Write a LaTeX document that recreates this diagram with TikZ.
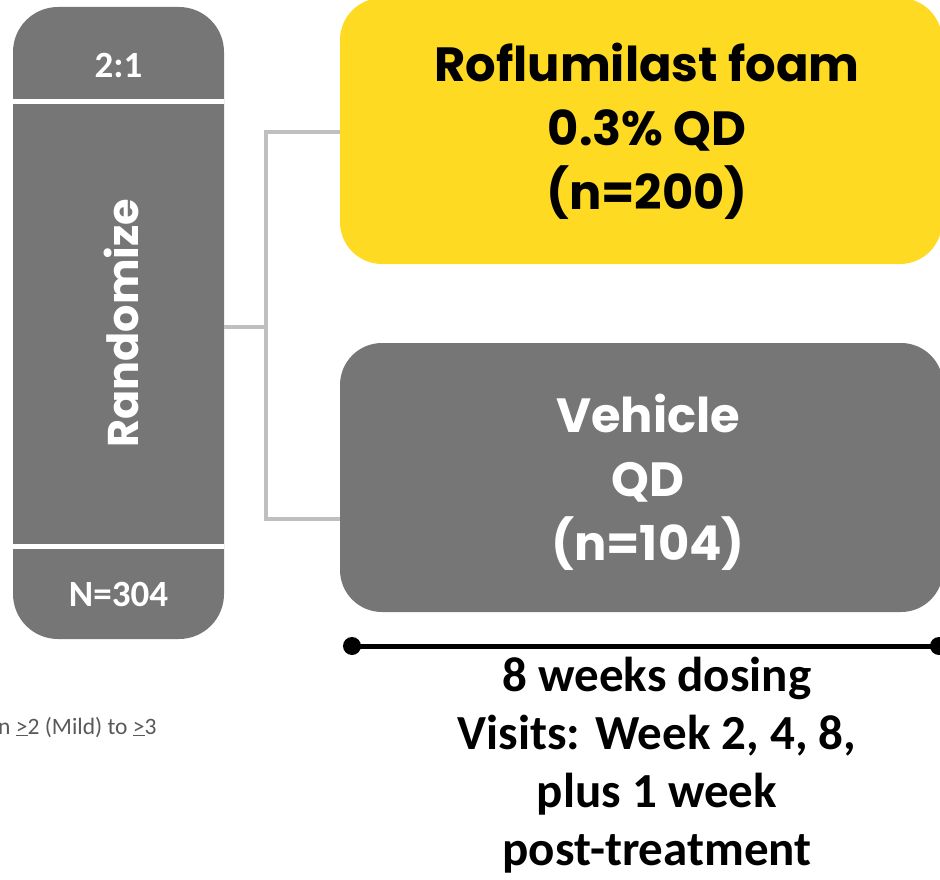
\documentclass[tikz,border=0pt]{standalone}
\usepackage{fontspec}
\setmainfont{Carlito}
\newfontfamily\gothic{Poppins}
\definecolor{gold}{HTML}{FEDB22}
\definecolor{slate}{HTML}{767676}
\definecolor{conn}{HTML}{BFBFBF}
\definecolor{note}{HTML}{595959}
\tikzset{
  armbox/.style={rounded corners=42pt, inner sep=0pt, draw=none},
  armtext/.style={align=center, font=\gothic\bfseries\fontsize{48}{64}\selectfont, inner sep=0pt},
  coltext/.style={text=white, font=\bfseries\fontsize{37}{42}\selectfont, inner sep=0pt},
  link/.style={draw=conn, line width=4pt},
  sep/.style={draw=white, line width=5pt},
  timetext/.style={align=center, font=\bfseries\fontsize{49}{58}\selectfont, inner sep=0pt}
}
\begin{document}
\begin{tikzpicture}[x=1pt,y=-1pt]
\useasboundingbox (0,0) rectangle (940,880);
\clip (0,0) rectangle (940,880);

% left column
\node[fill=slate, rounded corners=45pt, minimum width=211pt, minimum height=632pt, inner sep=0pt] (col) at (118.5,323) {};
\draw[sep] (13,101.5) -- (224,101.5);
\draw[sep] (13,546) -- (224,546);
\node[coltext] (ratio) at (118.5,65) {2:1};
\node[coltext] (total) at (118.5,594) {N=304};
\node[text=white, font=\gothic\bfseries\fontsize{43}{48}\selectfont, rotate=90, inner sep=0pt] (rand) at (121,323) {Randomize};

% arms
\node[armbox, fill=gold, minimum width=602pt, minimum height=266pt] (foam) at (641,131) {};
\node[armtext, text=black] (foamtext) at (647,131) {Roflumilast foam\\0.3\% QD\\(n=200)};
\node[armbox, fill=slate, minimum width=603pt, minimum height=269pt] (veh) at (641.5,477.5) {};
\node[armtext, text=white] (vehtext) at (648,482) {Vehicle\\QD\\(n=104)};

% connectors
\coordinate (jn) at (266,327);
\coordinate (jtop) at (266,132);
\coordinate (jbot) at (266,519);
\draw[link] (col.east |- jn) -- (jn);
\draw[link] (foam.west |- jtop) -- (jtop) -- (jbot) -- (veh.west |- jbot);

% timeline
\coordinate (t0) at (352,646);
\coordinate (t1) at (939,646);
\draw[line width=5pt] (t0) -- (t1);
\fill (t0) circle (9pt);
\fill (t1) circle (9pt);
\node[timetext] (dosing) at (657,765) {8 weeks dosing\\Visits: Week 2, 4, 8,\\plus 1 week\\post-treatment};

% note fragment
\node[anchor=base west, text=note, font=\fontsize{23.5}{27}\selectfont, inner sep=0pt] (note) at (-2,734) {n \underline{>}2 (Mild) to \underline{>}3};
\end{tikzpicture}
\end{document}
